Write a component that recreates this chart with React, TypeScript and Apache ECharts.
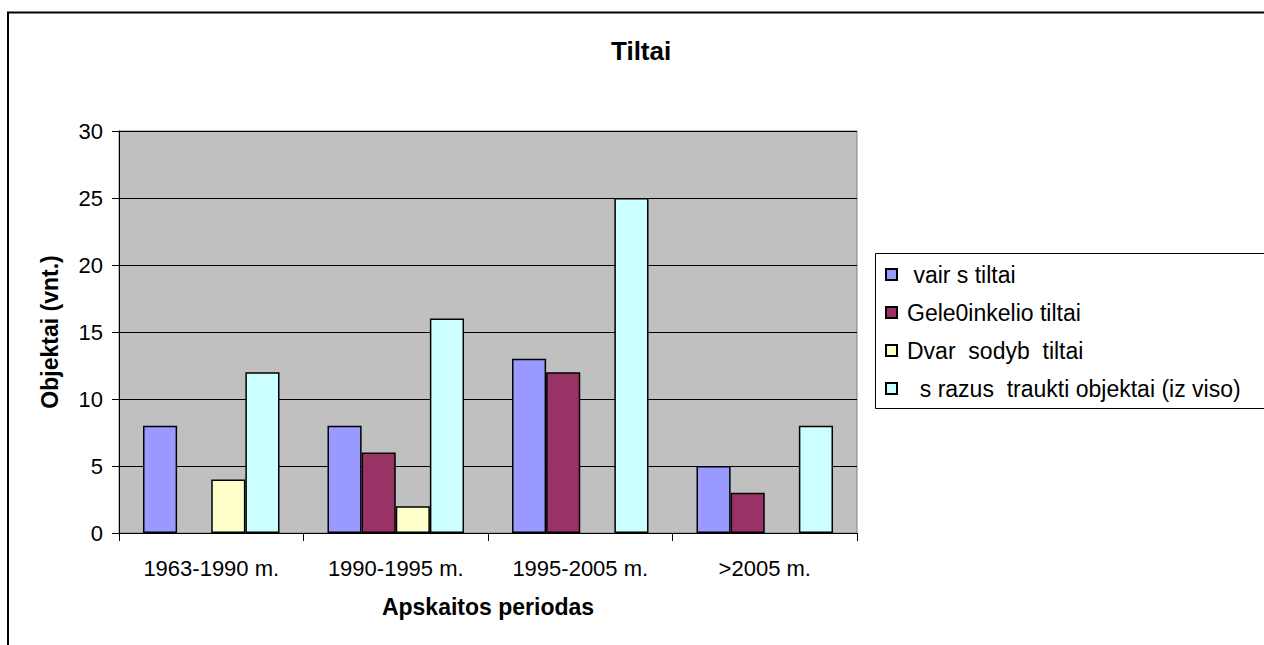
import React, { useEffect, useRef } from "react";
import * as echarts from "echarts";

const categories = ["1963-1990 m.", "1990-1995 m.", "1995-2005 m.", ">2005 m."];
const seriesNames = [
  " vair s tiltai",
  "Gele0inkelio tiltai",
  "Dvar  sodyb  tiltai",
  "  s razus  traukti objektai (iz viso)",
];
const variousBridges = [8, 8, 13, 5];
const railwayBridges = ["-", 6, 12, 3];
const manorBridges = [4, 2, "-", "-"];
const listedTotal = [12, 16, 25, 8];
const colors = ["#9999FF", "#993366", "#FFFFCC", "#CCFFFF"];
const yTicks = { min: 0, max: 30, interval: 5 };

const FONT = "'Liberation Sans', Arial, sans-serif";

export default function App() {
  const ref = useRef<HTMLDivElement>(null);
  useEffect(() => {
    const chart = echarts.init(ref.current!, undefined, { renderer: "svg" });
    const values = [variousBridges, railwayBridges, manorBridges, listedTotal];
    chart.setOption({
      animation: false,
      backgroundColor: "#fff",
      textStyle: { fontFamily: FONT },
      title: {
        text: "Tiltai",
        left: 611,
        top: 38,
        padding: 0,
        textStyle: { fontFamily: FONT, fontSize: 26, fontWeight: "bold", color: "#000" },
      },
      graphic: [
        {
          type: "rect",
          z: 0,
          shape: { x: 8, y: 12.5, width: 1400, height: 800 },
          style: { fill: "none", stroke: "#000", lineWidth: 2 },
        },
        {
          type: "rect",
          z: 0,
          shape: { x: 875.5, y: 253.5, width: 500, height: 155 },
          style: { fill: "#fff", stroke: "#000", lineWidth: 1 },
        },
      ],
      legend: {
        orient: "vertical",
        left: 885,
        top: 263,
        padding: 0,
        itemGap: 15,
        itemWidth: 11,
        itemHeight: 11,
        z: 10,
        icon: "rect",
        textStyle: { fontFamily: FONT, fontSize: 23, color: "#000", padding: [0, 0, 0, 5] },
        data: seriesNames,
      },
      grid: {
        left: 119,
        right: 407,
        top: 131,
        bottom: 112,
        show: true,
        backgroundColor: "#C0C0C0",
        borderColor: "#808080",
        borderWidth: 1,
      },
      xAxis: {
        type: "category",
        data: categories,
        name: "Apskaitos periodas",
        nameLocation: "middle",
        nameGap: 62,
        nameTextStyle: { fontFamily: FONT, fontSize: 23, fontWeight: "bold", color: "#000" },
        axisLine: { lineStyle: { color: "#000", width: 1 } },
        axisTick: { show: true, length: 8, lineStyle: { color: "#000" } },
        axisLabel: { fontFamily: FONT, fontSize: 22, color: "#000", margin: 24 },
      },
      yAxis: {
        type: "value",
        min: yTicks.min,
        max: yTicks.max,
        interval: yTicks.interval,
        name: "Objektai (vnt.)",
        nameLocation: "middle",
        nameGap: 58,
        nameTextStyle: { fontFamily: FONT, fontSize: 23, fontWeight: "bold", color: "#000" },
        axisLine: { show: true, lineStyle: { color: "#000", width: 1 } },
        axisTick: { show: true, length: 7, lineStyle: { color: "#000" } },
        axisLabel: { fontFamily: FONT, fontSize: 22, color: "#000", margin: 16 },
        splitLine: { lineStyle: { color: "#000", width: 1 } },
      },
      series: seriesNames.map((name, i) => ({
        name,
        type: "bar",
        data: values[i],
        barGap: "0%",
        barCategoryGap: "26%",
        itemStyle: { color: colors[i], borderColor: "#000", borderWidth: 1.5 },
      })),
    });
    return () => chart.dispose();
  }, []);
  return (
    <div
      ref={ref}
      style={{ position: "fixed", left: 0, top: 0, width: 1264, height: 645 }}
    />
  );
}
